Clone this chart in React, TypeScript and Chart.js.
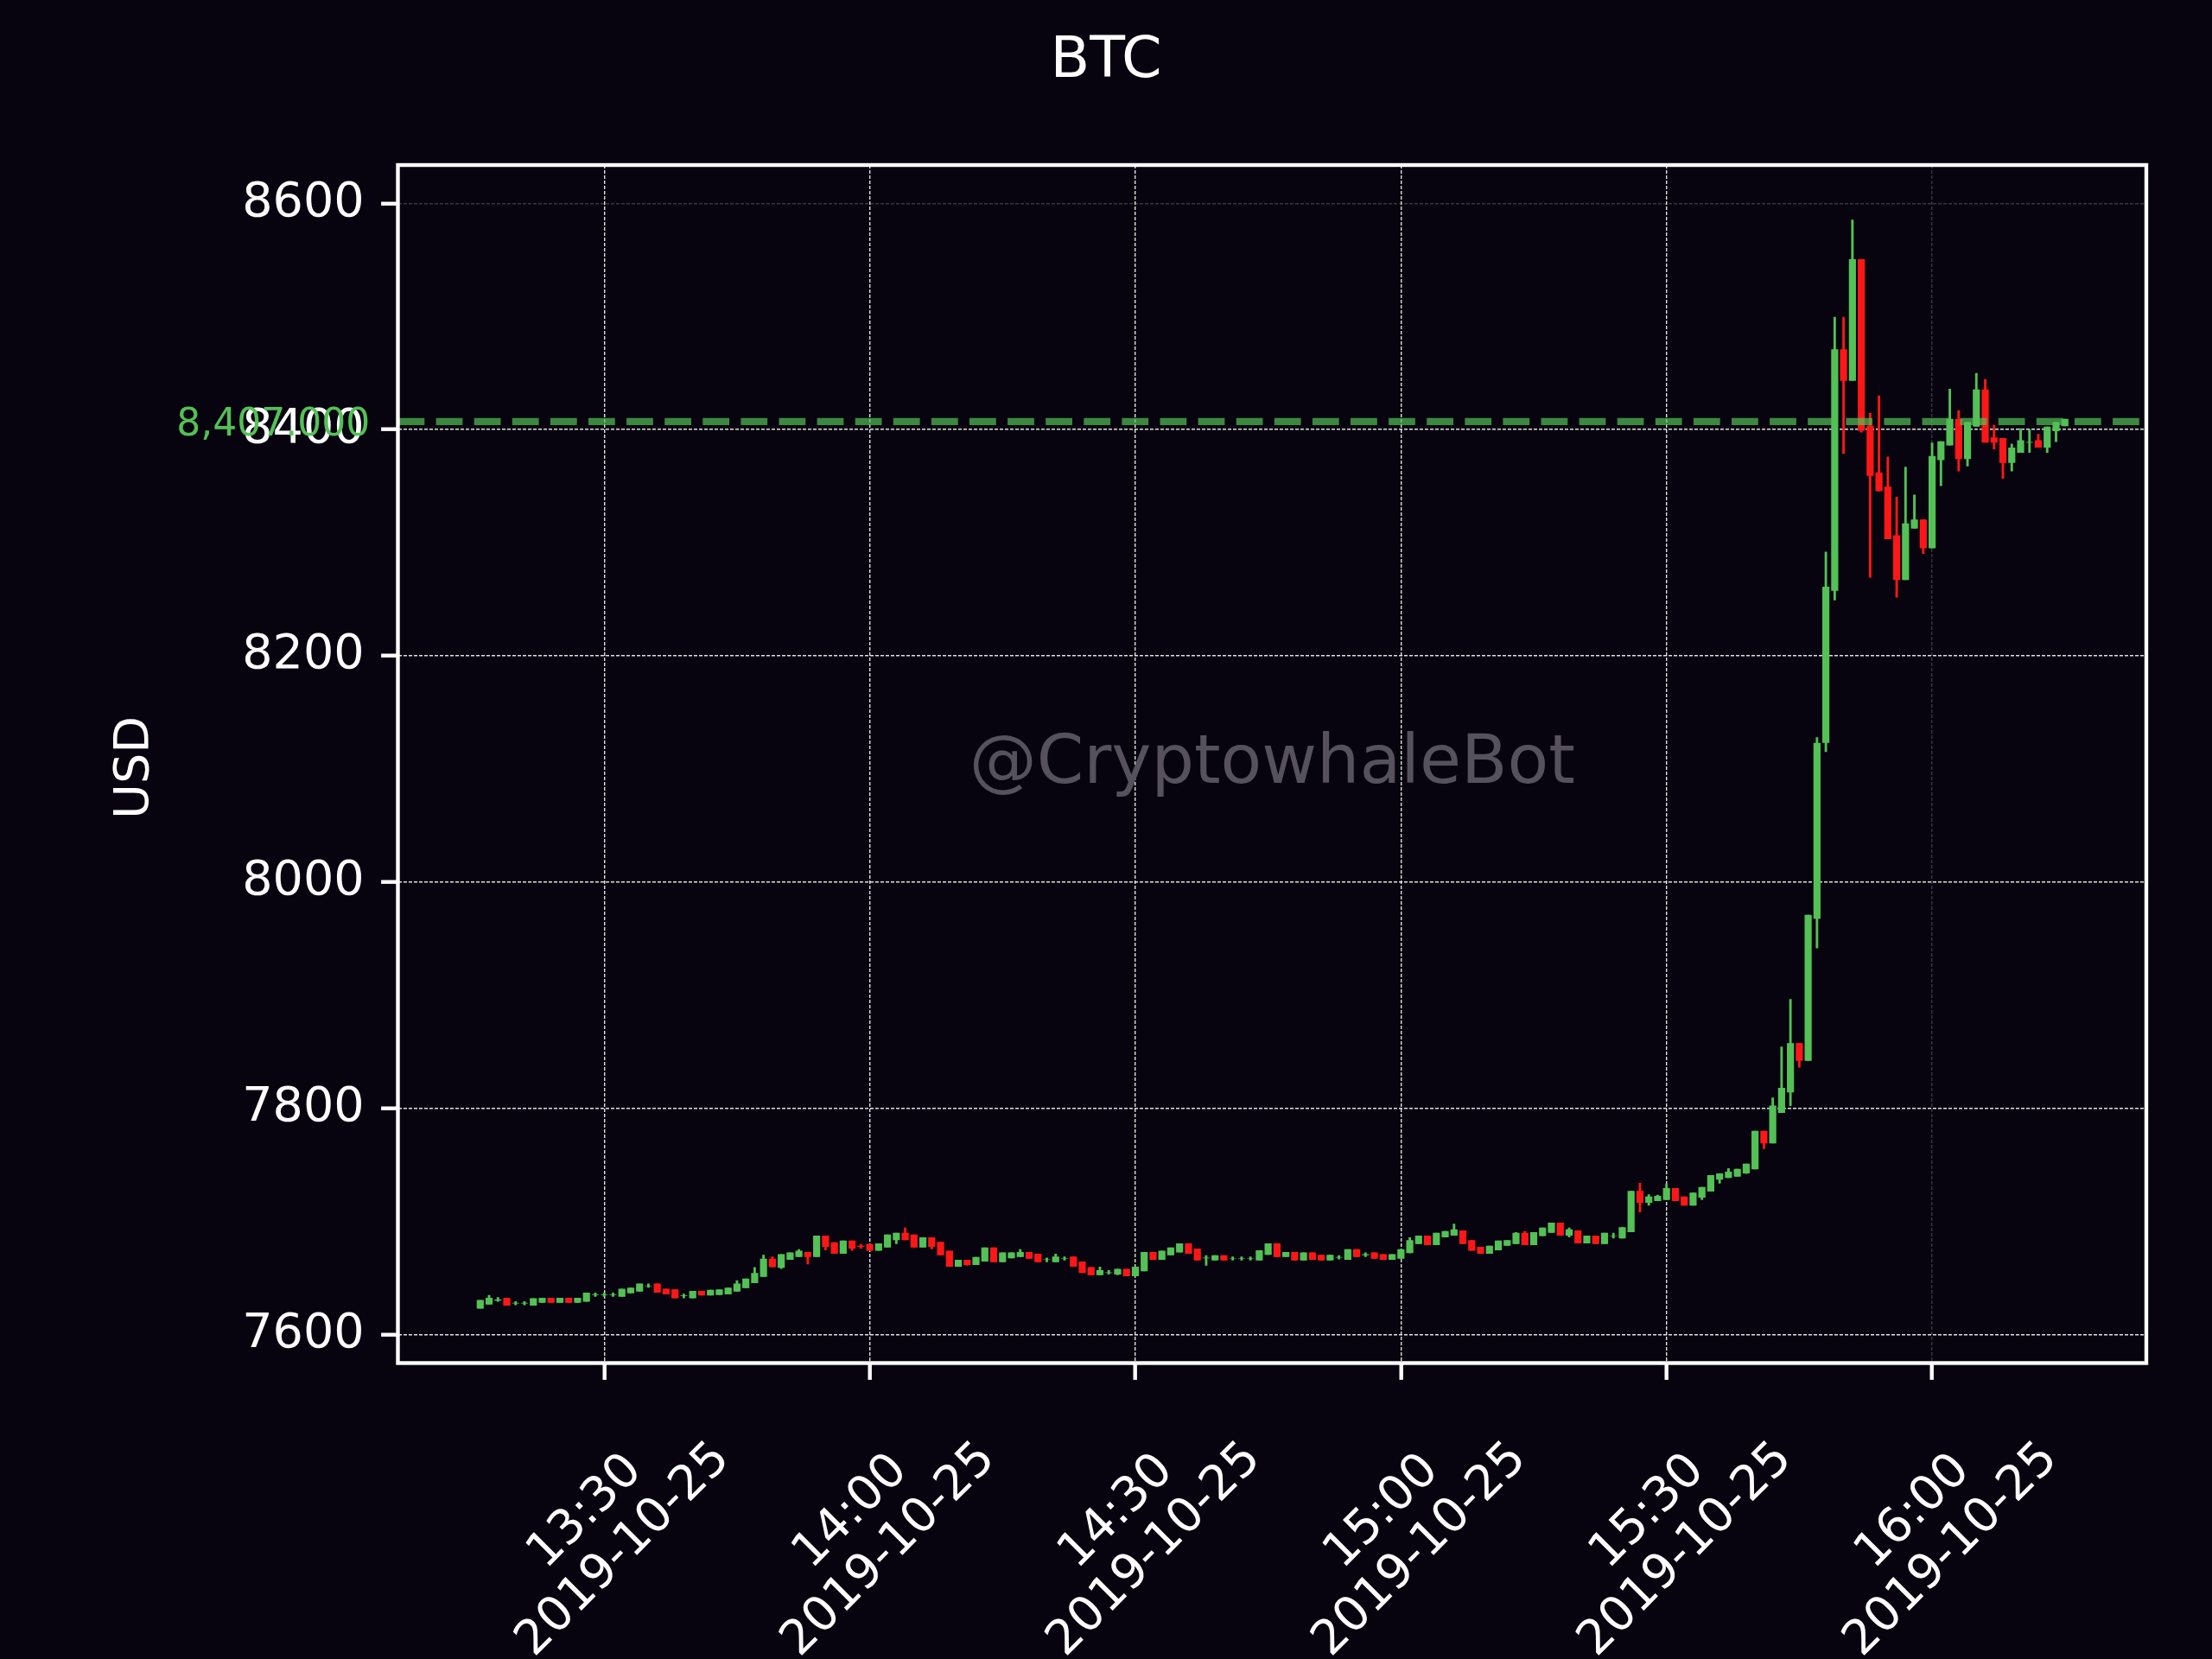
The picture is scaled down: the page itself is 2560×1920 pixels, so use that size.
import { useEffect, useRef } from 'react';
import { Chart, registerables } from 'chart.js';

Chart.register(...registerables);

// ---- data -------------------------------------------------------------
const TITLE = 'BTC';
const Y_LABEL = 'USD';
const WATERMARK = '@CryptowhaleBot';
const DATE_LABEL = '2019-10-25';

// minutes after 13:00 of the first candle (13:16); one candle per minute
const START_MINUTE = 16;

const OPEN = [
  7623, 7626.5, 7630, 7632.5, 7627.5, 7627.5, 7625.5, 7628, 7632.5, 7628,
  7632.5, 7628, 7629, 7635, 7635, 7635, 7633.5, 7636.5, 7638, 7642.5,
  7645, 7640.5, 7640, 7634, 7632, 7638.5, 7634.5, 7635, 7635.5, 7638,
  7641, 7645.5, 7651, 7667, 7659, 7666, 7668.5, 7673, 7668.5, 7687.5,
  7681.5, 7671.5, 7683, 7678.5, 7680, 7674, 7677, 7683.5, 7690, 7688.5,
  7677, 7686, 7682, 7674, 7660, 7666, 7661.5, 7664.5, 7677, 7664,
  7667.5, 7668.5, 7673, 7671.5, 7666, 7664, 7667, 7669, 7664.5, 7659.5,
  7652.5, 7654.5, 7653, 7658, 7651.5, 7656, 7673, 7666, 7670, 7672.5,
  7680.5, 7676, 7667.5, 7665.5, 7670, 7667, 7667, 7667, 7665.5, 7670.5,
  7680.5, 7668.5, 7673, 7665.5, 7672.5, 7670.5, 7665.5, 7668, 7666, 7675.5,
  7670, 7672.5, 7671, 7666, 7667, 7672, 7680, 7687.5, 7679, 7686,
  7687.5, 7692, 7683.5, 7677.5, 7671.5, 7674.5, 7678.5, 7680, 7690, 7679,
  7687, 7690, 7699, 7687.5, 7692, 7680.5, 7687.5, 7680, 7687, 7685,
  7690.5, 7727, 7716.5, 7718, 7719, 7729.5, 7722, 7714, 7721, 7726.5,
  7737, 7738.5, 7739.5, 7742.5, 7746, 7780, 7769, 7796, 7814, 7857.5,
  7842, 7967.5, 8123, 8257.5, 8471, 8443, 8550.5, 8403.5, 8362, 8349.5,
  8306.5, 8267, 8312.5, 8320.5, 8295, 8373, 8386, 8409.5, 8374, 8402.5,
  8435.5, 8393, 8392.5, 8370.5, 8379.5, 8388.5, 8390.5, 8384, 8398.5, 8403,
];

const HIGH = [
  7630.5, 7635, 7633, 7632.5, 7629.5, 7629.5, 7632, 7632.5, 7632.5, 7632.5,
  7632.5, 7632.5, 7637, 7637, 7637, 7637, 7640.5, 7641.5, 7645, 7645,
  7645, 7640.5, 7640, 7636, 7638.5, 7638.5, 7639.5, 7640, 7641.5, 7648,
  7649.5, 7659.5, 7670.5, 7669, 7671, 7672.5, 7675.5, 7673, 7687.5, 7687.5,
  7681.5, 7683, 7683, 7680, 7680, 7680.5, 7688.5, 7690, 7694.5, 7688.5,
  7686, 7686, 7682, 7674, 7666, 7666, 7668.5, 7677, 7677, 7672.5,
  7672.5, 7675.5, 7673, 7671.5, 7668, 7671.5, 7669, 7669, 7664.5, 7659.5,
  7660, 7657, 7658, 7658, 7660, 7673, 7673, 7674, 7677, 7680.5,
  7680.5, 7676, 7670, 7670, 7670, 7669, 7669, 7669, 7674.5, 7680.5,
  7680.5, 7673, 7673, 7672.5, 7672.5, 7670.5, 7670.5, 7670, 7675.5, 7675.5,
  7672.5, 7672.5, 7671, 7671, 7675.5, 7686, 7687.5, 7687.5, 7690, 7691.5,
  7698, 7692, 7683.5, 7677.5, 7678.5, 7683, 7683.5, 7690.5, 7691.5, 7690.5,
  7694.5, 7699, 7699, 7694.5, 7692, 7687.5, 7687.5, 7690, 7690, 7695,
  7727, 7734, 7724, 7723.5, 7733.5, 7729.5, 7722, 7725.5, 7730.5, 7741,
  7742.5, 7747, 7746.5, 7751, 7780, 7780, 7809.5, 7854.5, 7896.5, 7857.5,
  7971, 8128, 8292, 8499.5, 8499.5, 8585.5, 8550.5, 8414.5, 8430, 8376,
  8340.5, 8367, 8342.5, 8320.5, 8388.5, 8389.5, 8436, 8417, 8406.5, 8450,
  8444.5, 8404, 8392.5, 8387.5, 8401, 8400, 8396, 8402.5, 8406.5, 8409.5,
];

const LOW = [
  7623, 7626.5, 7629, 7625.5, 7626, 7626, 7625.5, 7628, 7628, 7628,
  7628, 7628, 7629, 7633.5, 7633.5, 7633.5, 7633.5, 7636.5, 7638, 7641.5,
  7637, 7635.5, 7632, 7632, 7632, 7634.5, 7634.5, 7635, 7635.5, 7638,
  7641, 7645.5, 7651, 7659.5, 7658, 7666, 7668.5, 7662, 7668.5, 7674.5,
  7671.5, 7671.5, 7674, 7676, 7674, 7674, 7677, 7680, 7683.5, 7677,
  7677, 7675.5, 7670, 7660, 7660, 7661, 7661.5, 7664.5, 7664, 7664,
  7667.5, 7668.5, 7667, 7664, 7664, 7664, 7665.5, 7660, 7654.5, 7652.5,
  7652.5, 7653, 7652.5, 7651.5, 7651.5, 7656, 7666, 7666, 7670, 7672.5,
  7671.5, 7665.5, 7661, 7665.5, 7665.5, 7665.5, 7665.5, 7665.5, 7665.5, 7670.5,
  7668.5, 7668.5, 7665.5, 7665.5, 7666, 7665.5, 7665.5, 7666.5, 7666, 7668.5,
  7668.5, 7667, 7666, 7666, 7667, 7672, 7680, 7679, 7679, 7686,
  7687.5, 7680, 7674, 7671.5, 7671.5, 7674.5, 7678.5, 7680, 7679, 7679,
  7687, 7690, 7687.5, 7686, 7680.5, 7680.5, 7680, 7680, 7685, 7685,
  7690.5, 7708, 7714, 7718, 7719, 7718, 7714, 7714, 7719, 7726.5,
  7733.5, 7738.5, 7739.5, 7742, 7746, 7764, 7769, 7796, 7802, 7836,
  7842, 7941.5, 8115, 8249, 8378.5, 8443, 8397.5, 8269, 8345.5, 8303,
  8251.5, 8267, 8312.5, 8290, 8295, 8350, 8386, 8363, 8367.5, 8402.5,
  8388.5, 8382.5, 8356.5, 8363, 8379.5, 8379.5, 8384, 8379.5, 8389, 8403,
];

const CLOSE = [
  7630.5, 7632.5, 7631, 7625.5, 7628, 7628, 7632, 7632.5, 7628, 7632.5,
  7628, 7632.5, 7637, 7635.5, 7635.5, 7635.5, 7640.5, 7641.5, 7645, 7643,
  7637, 7635.5, 7632, 7634.5, 7638.5, 7634.5, 7639.5, 7640, 7641.5, 7645,
  7649.5, 7654.5, 7667, 7659.5, 7671, 7672.5, 7674, 7668.5, 7687.5, 7677.5,
  7671.5, 7683, 7676, 7677.5, 7674, 7680.5, 7688.5, 7690, 7683.5, 7677,
  7686, 7677.5, 7670, 7660, 7666, 7661.5, 7668.5, 7677, 7664, 7672.5,
  7672.5, 7673, 7667, 7664, 7666.5, 7669, 7667.5, 7660, 7654.5, 7652.5,
  7657, 7655, 7658, 7651.5, 7660, 7673, 7666, 7674, 7677, 7680.5,
  7671.5, 7665.5, 7668, 7670, 7665.5, 7667.5, 7667.5, 7667.5, 7674.5, 7680.5,
  7668.5, 7673, 7665.5, 7672.5, 7666, 7665.5, 7670.5, 7668.5, 7675.5, 7668.5,
  7671, 7667, 7666, 7671, 7675.5, 7683.5, 7687.5, 7679, 7690, 7691.5,
  7693, 7680, 7674, 7671.5, 7678.5, 7683, 7683.5, 7690, 7679, 7690.5,
  7694.5, 7699, 7687.5, 7693, 7680.5, 7687.5, 7680, 7690, 7687.5, 7695,
  7727, 7716.5, 7722, 7722.5, 7729.5, 7718, 7714, 7725.5, 7730.5, 7741,
  7742.5, 7744, 7746.5, 7751, 7780, 7769, 7802.5, 7818, 7857.5, 7842,
  7971, 8123, 8261, 8471, 8443, 8550.5, 8399, 8359, 8345.5, 8303,
  8267, 8317, 8320.5, 8295, 8376.5, 8389.5, 8409.5, 8374, 8406.5, 8435.5,
  8388.5, 8388.5, 8370.5, 8384, 8390.5, 8389, 8384, 8402.5, 8406.5, 8409.5,
];

const LAST_PRICE = 8407;
const LAST_PRICE_LABEL = '8,407.000';

const X_TICKS = [30, 60, 90, 120, 150, 180];
const X_TICK_LABELS = ['13:30', '14:00', '14:30', '15:00', '15:30', '16:00'];
const Y_TICKS = [7600, 7800, 8000, 8200, 8400, 8600];
const DIM_X_TICKS = [180];
const DIM_Y_TICKS = [8600];

const X_MIN = 6.7;
const X_MAX = 204.2;
const Y_MIN = 7574.8;
const Y_MAX = 8633.8;

// ---- style ------------------------------------------------------------
const W = 2560;
const H = 1920;
const BG = '#07040f';
const UP = '#53c156';
const DOWN = '#ff1717';
const FONT = "'DejaVu Sans', sans-serif";
const GRID = 'rgba(255,255,255,0.88)';
const GRID_DIM = 'rgba(255,255,255,0.2)';
const TICK_FONT = 55.6;
const TICK_LEN = 19.4;
const TICK_PAD = 19.4;

export default function App() {
  const ref = useRef<HTMLCanvasElement | null>(null);

  useEffect(() => {
    document.body.style.margin = '0';
    document.body.style.background = BG;
    const canvas = ref.current;
    if (!canvas) return;

    const minutes = OPEN.map((_, i) => START_MINUTE + i);
    const colors = OPEN.map((o, i) => (CLOSE[i] >= o ? UP : DOWN));
    const bodies = minutes.map((m, i) => ({
      x: m,
      y: [Math.min(OPEN[i], CLOSE[i]), Math.max(OPEN[i], CLOSE[i])],
    }));
    const wicks = minutes.map((m, i) => ({ x: m, y: [LOW[i], HIGH[i]] }));

    const decor = {
      id: 'decor',
      beforeDraw(chart: any) {
        const c = chart.ctx;
        c.save();
        c.fillStyle = BG;
        c.fillRect(0, 0, chart.width, chart.height);
        c.restore();
      },
      afterDraw(chart: any) {
        const c = chart.ctx;
        const a = chart.chartArea;
        const xs = chart.scales.x;
        const ys = chart.scales.y;
        c.save();

        // watermark
        c.fillStyle = '#57515d';
        c.font = `78px ${FONT}`;
        c.textAlign = 'center';
        c.textBaseline = 'alphabetic';
        c.fillText(WATERMARK, (a.left + a.right) / 2, (a.top + a.bottom) / 2 + 22);

        // frame
        c.strokeStyle = '#ffffff';
        c.lineWidth = 4.4;
        c.strokeRect(a.left, a.top, a.right - a.left, a.bottom - a.top);

        // title
        c.fillStyle = '#ffffff';
        c.font = `66.7px ${FONT}`;
        c.textAlign = 'center';
        c.fillText(TITLE, W / 2, 89.3);

        // y label
        c.save();
        c.font = `${TICK_FONT}px ${FONT}`;
        c.translate(157, (a.top + a.bottom) / 2 + 4);
        c.rotate(-Math.PI / 2);
        c.textAlign = 'center';
        c.textBaseline = 'middle';
        c.fillText(Y_LABEL, 0, 0);
        c.restore();

        // x tick labels (rotated 45deg, centred on tick)
        c.font = `${TICK_FONT}px ${FONT}`;
        const hb = 116;
        X_TICKS.forEach((v, k) => {
          const px = xs.getPixelForValue(v);
          const lines = [X_TICK_LABELS[k], DATE_LABEL];
          const wmax = Math.max(...lines.map((l) => c.measureText(l).width));
          const diag = (wmax + hb) * Math.SQRT1_2;
          const top = a.bottom + TICK_LEN + TICK_PAD;
          const cy = top + diag / 2;
          c.save();
          c.translate(px, cy);
          c.rotate(-Math.PI / 4);
          c.textAlign = 'center';
          c.textBaseline = 'alphabetic';
          c.fillStyle = '#ffffff';
          c.fillText(lines[0], 0, -15.7);
          c.fillText(lines[1], 0, 46.6);
          c.restore();
        });

        // last price label
        const ly = ys.getPixelForValue(LAST_PRICE);
        c.font = `44px ${FONT}`;
        c.fillStyle = UP;
        c.textAlign = 'right';
        c.textBaseline = 'alphabetic';
        c.fillText(LAST_PRICE_LABEL, 428.3, ly + 16);

        c.restore();
      },
    };

    const gridColor = (dim: number[]) => (ctx: any) =>
      ctx.tick && dim.includes(ctx.tick.value) ? GRID_DIM : GRID;

    const chart = new Chart(canvas, {
      type: 'bar',
      data: {
        datasets: [
          {
            type: 'line',
            data: [
              { x: X_MIN, y: LAST_PRICE },
              { x: X_MAX, y: LAST_PRICE },
            ],
            borderColor: 'rgba(83,193,86,0.7)',
            borderWidth: 8.3,
            borderDash: [30.8, 13.3],
            pointRadius: 0,
            order: 0,
          } as any,
          {
            type: 'bar',
            data: bodies as any,
            backgroundColor: colors,
            borderWidth: 0,
            barPercentage: 0.8,
            categoryPercentage: 1,
            grouped: false,
            order: 1,
          } as any,
          {
            type: 'bar',
            data: wicks as any,
            backgroundColor: colors,
            borderWidth: 0,
            barPercentage: 0.28,
            categoryPercentage: 1,
            grouped: false,
            order: 2,
          } as any,
        ],
      },
      options: {
        animation: false,
        responsive: false,
        devicePixelRatio: 1,
        layout: { padding: { top: 191, right: 76, left: 0, bottom: 0 } },
        plugins: {
          legend: { display: false },
          tooltip: { enabled: false },
          title: { display: false },
        },
        scales: {
          x: {
            type: 'linear',
            min: X_MIN,
            max: X_MAX,
            offset: false,
            afterBuildTicks: (s: any) => {
              s.ticks = X_TICKS.map((v) => ({ value: v }));
            },
            afterFit: (s: any) => {
              s.height = H - 1577.5;
            },
            ticks: { display: false },
            grid: {
              offset: false,
              color: gridColor(DIM_X_TICKS),
              lineWidth: 1.4,
              drawTicks: true,
              tickLength: TICK_LEN,
              tickWidth: 4.4,
              tickColor: '#ffffff',
              borderDash: [4, 2],
            } as any,
            border: { display: false, dash: [4, 2] } as any,
          },
          y: {
            type: 'linear',
            min: Y_MIN,
            max: Y_MAX,
            afterBuildTicks: (s: any) => {
              s.ticks = Y_TICKS.map((v) => ({ value: v }));
            },
            afterFit: (s: any) => {
              s.width = 460.5;
            },
            ticks: {
              color: '#ffffff',
              font: { family: FONT, size: TICK_FONT },
              padding: TICK_PAD,
              autoSkip: false,
              callback: (v: any) => String(v),
            },
            grid: {
              color: gridColor(DIM_Y_TICKS),
              lineWidth: 1.4,
              drawTicks: true,
              tickLength: TICK_LEN,
              tickWidth: 4.4,
              tickColor: '#ffffff',
              borderDash: [4, 2],
            } as any,
            border: { display: false, dash: [4, 2] } as any,
          },
        },
      } as any,
      plugins: [decor],
    });

    return () => chart.destroy();
  }, []);

  return (
    <div style={{ position: 'absolute', left: 0, top: 0, width: W, height: H, background: BG }}>
      <canvas ref={ref} width={W} height={H} style={{ display: 'block', width: W, height: H }} />
    </div>
  );
}
